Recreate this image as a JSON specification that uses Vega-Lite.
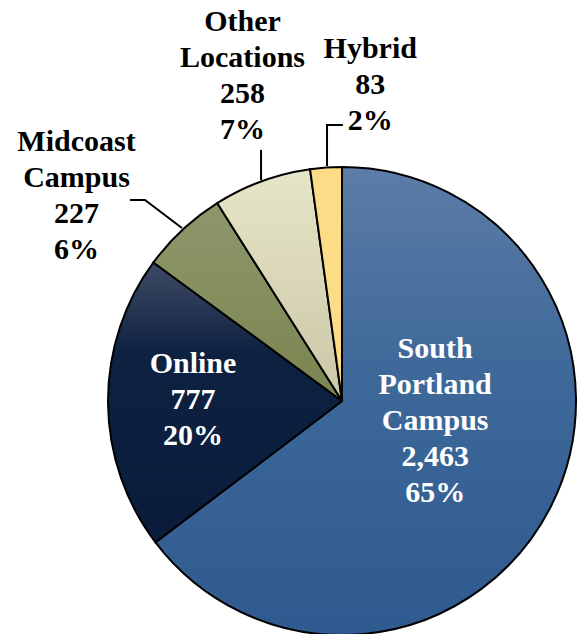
{
  "$schema": "https://vega.github.io/schema/vega-lite/v6.json",
  "autosize": {"type": "none"},
  "width": 468,
  "height": 468,
  "padding": {"left": 108, "top": 167, "right": 4, "bottom": 0},
  "background": "white",
  "config": {"view": {"stroke": null}},
  "data": {"values": [
    {"category": "South Portland Campus", "value": 2463, "order": 1, "label": "South\nPortland\nCampus\n2,463\n65%"},
    {"category": "Online", "value": 777, "order": 2, "label": "Online\n777\n20%"},
    {"category": "Midcoast Campus", "value": 227, "order": 3, "label": "Midcoast\nCampus\n227\n6%"},
    {"category": "Other Locations", "value": 258, "order": 4, "label": "Other\nLocations\n258\n7%"},
    {"category": "Hybrid", "value": 83, "order": 5, "label": "Hybrid\n83\n2%"}
  ]},
  "encoding": {
    "theta": {"field": "value", "type": "quantitative", "stack": true},
    "order": {"field": "order", "type": "quantitative"}
  },
  "layer": [
    {
      "mark": {"type": "arc", "stroke": "#000000", "strokeWidth": 2, "strokeJoin": "miter"},
      "encoding": {
        "fill": {
          "condition": [
            {"test": "datum.category === 'South Portland Campus'", "value": {"gradient": "linear", "x1": 0, "y1": 0, "x2": 0, "y2": 1, "stops": [{"offset": 0, "color": "#5d7ca7"}, {"offset": 0.45, "color": "#3d6899"}, {"offset": 1, "color": "#2f5a8f"}]}},
            {"test": "datum.category === 'Online'", "value": {"gradient": "linear", "x1": 0, "y1": 0, "x2": 0, "y2": 1, "stops": [{"offset": 0, "color": "#3e4a64"}, {"offset": 0.33, "color": "#0e2141"}, {"offset": 1, "color": "#0a1c3a"}]}},
            {"test": "datum.category === 'Midcoast Campus'", "value": {"gradient": "linear", "x1": 0, "y1": 0, "x2": 0, "y2": 1, "stops": [{"offset": 0, "color": "#8e976b"}, {"offset": 1, "color": "#7a844f"}]}},
            {"test": "datum.category === 'Other Locations'", "value": {"gradient": "linear", "x1": 0, "y1": 0, "x2": 0, "y2": 1, "stops": [{"offset": 0, "color": "#e6e5c7"}, {"offset": 1, "color": "#cbc7a7"}]}}
          ],
          "value": "#fddc87"
        }
      }
    },
    {
      "mark": {"type": "text", "radius": 104, "dy": -98, "align": "center", "baseline": "middle", "lineBreak": "\n", "lineHeight": 36, "font": "Liberation Serif", "fontWeight": "bold", "fontSize": 30, "fill": "#ffffff"},
      "encoding": {"text": {"condition": {"test": "datum.category === 'South Portland Campus'", "field": "label"}, "value": ""}}
    },
    {
      "mark": {"type": "text", "radius": 149, "dy": -38, "align": "center", "baseline": "middle", "lineBreak": "\n", "lineHeight": 36, "font": "Liberation Serif", "fontWeight": "bold", "fontSize": 30, "fill": "#ffffff"},
      "encoding": {"text": {"condition": {"test": "datum.category === 'Online'", "field": "label"}, "value": ""}}
    },
    {
      "mark": {"type": "text", "radius": 300, "dx": -61, "dy": -39, "align": "center", "baseline": "middle", "lineBreak": "\n", "lineHeight": 36, "font": "Liberation Serif", "fontWeight": "bold", "fontSize": 30, "fill": "#000000"},
      "encoding": {"text": {"condition": {"test": "datum.category === 'Midcoast Campus'", "field": "label"}, "value": ""}}
    },
    {
      "mark": {"type": "text", "radius": 340, "dx": 17, "dy": -60, "align": "center", "baseline": "middle", "lineBreak": "\n", "lineHeight": 36, "font": "Liberation Serif", "fontWeight": "bold", "fontSize": 30, "fill": "#000000"},
      "encoding": {"text": {"condition": {"test": "datum.category === 'Other Locations'", "field": "label"}, "value": ""}}
    },
    {
      "mark": {"type": "text", "radius": 318, "dx": 50, "dy": -35, "align": "center", "baseline": "middle", "lineBreak": "\n", "lineHeight": 36, "font": "Liberation Serif", "fontWeight": "bold", "fontSize": 30, "fill": "#000000"},
      "encoding": {"text": {"condition": {"test": "datum.category === 'Hybrid'", "field": "label"}, "value": ""}}
    },
    {
      "data": {"values": [
        {"g": "Midcoast", "o": 1, "lx": -0.906, "ly": 0.859},
        {"g": "Midcoast", "o": 2, "lx": -0.842, "ly": 0.859},
        {"g": "Midcoast", "o": 3, "lx": -0.684, "ly": 0.739},
        {"g": "Other", "o": 1, "lx": -0.346, "ly": 1.073},
        {"g": "Other", "o": 2, "lx": -0.346, "ly": 0.944},
        {"g": "Hybrid", "o": 1, "lx": 0.004, "ly": 1.179},
        {"g": "Hybrid", "o": 2, "lx": -0.064, "ly": 1.179},
        {"g": "Hybrid", "o": 3, "lx": -0.064, "ly": 1.004}
      ]},
      "mark": {"type": "line", "stroke": "#000000", "strokeWidth": 2, "clip": false},
      "encoding": {
        "theta": null,
        "x": {"field": "lx", "type": "quantitative", "scale": {"domain": [-1, 1], "nice": false, "zero": false}, "axis": null},
        "y": {"field": "ly", "type": "quantitative", "scale": {"domain": [-1, 1], "nice": false, "zero": false}, "axis": null},
        "detail": {"field": "g", "type": "nominal"},
        "order": {"field": "o", "type": "quantitative"}
      }
    }
  ]
}
